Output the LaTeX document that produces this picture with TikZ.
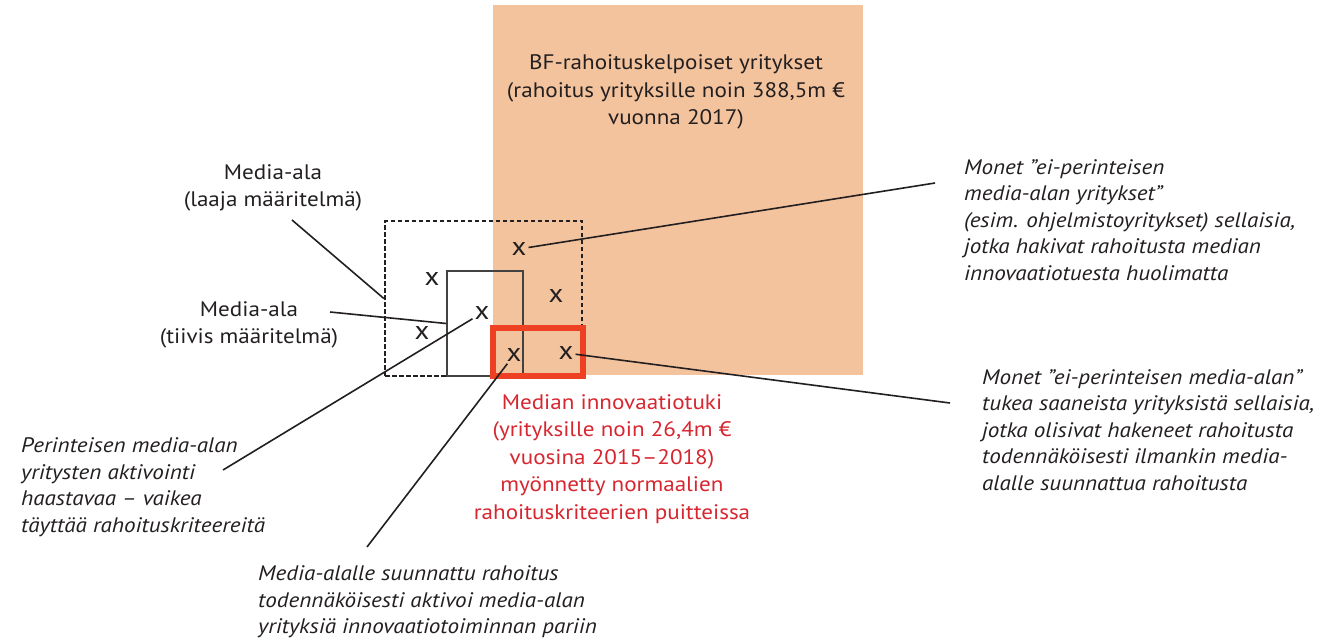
\documentclass[tikz,border=0pt]{standalone}
\usepackage{fontspec}
\setmainfont{PT Sans}[FakeStretch=1.1]
\usetikzlibrary{positioning}

\definecolor{bfpeach}{HTML}{F3C39E}
\definecolor{tukired}{HTML}{EE4123}
\definecolor{tukitext}{HTML}{D7262F}
\definecolor{tummateksti}{HTML}{231F20}

\begin{document}
\begin{tikzpicture}[x=1pt,y=-1pt,
    lbl/.style={align=center,inner sep=0pt,text=tummateksti,font=\fontsize{21}{27.5}\selectfont},
    note/.style={align=left,inner sep=0pt,anchor=west,text=tummateksti,font=\fontsize{21}{26.5}\selectfont\itshape},
    xmerkki/.style={inner sep=2pt,text=tummateksti,font=\fontsize{26}{26}\selectfont},
    viiva/.style={line width=1.6pt,tummateksti}]

\useasboundingbox (0,0) rectangle (1329,640);

% BF-rahoitus
\node[fill=bfpeach,minimum width=370pt,minimum height=370pt,inner sep=0pt] (bfbox) at (678,190) {};
\node[lbl] (bftxt) at (676,92) {BF-rahoituskelpoiset yritykset\\(rahoitus yrityksille noin 388,5m €\\vuonna 2017)};

% media-ala laatikot
\node[draw=tummateksti,line width=2.3pt,dash pattern=on 4.5pt off 2.5pt,minimum width=197pt,minimum height=155pt,inner sep=0pt] (laaja) at (483.5,298.5) {};
\node[draw=tummateksti!85,line width=1.3pt,minimum width=76pt,minimum height=105pt,inner sep=0pt] (tiivis) at (485,323.5) {};
\node[draw=tukired,line width=6.5pt,minimum width=90pt,minimum height=48pt,inner sep=0pt] (tuki) at (538,352) {};

% merkit
\node[xmerkki] (x1) at (519,249) {x};
\node[xmerkki] (x2) at (432,279) {x};
\node[xmerkki] (x3) at (556,296) {x};
\node[xmerkki] (x4) at (482,313) {x};
\node[xmerkki] (x5) at (422,333) {x};
\node[xmerkki] (x6) at (514,355) {x};
\node[xmerkki] (x7) at (566,353) {x};

% tekstit
\node[lbl] (laajatxt) at (273,188) {Media-ala\\(laaja määritelmä)};
\node[lbl] (tiivistxt) at (249,325) {Media-ala\\(tiivis määritelmä)};
\node[note] (monet1txt) at (964,220) {Monet ”ei-perinteisen\\media-alan yritykset”\\(esim. ohjelmistoyritykset) sellaisia,\\jotka hakivat rahoitusta median\\innovaatiotuesta huolimatta};
\node[note] (monet2txt) at (982,430) {Monet ”ei-perinteisen media-alan”\\tukea saaneista yrityksistä sellaisia,\\jotka olisivat hakeneet rahoitusta\\todennäköisesti ilmankin media-\\alalle suunnattua rahoitusta};
\node[note] (perintxt) at (21,487) {Perinteisen media-alan\\yritysten aktivointi\\haastavaa – vaikea\\täyttää rahoituskriteereitä};
\node[note] (alalletxt) at (258,602) {Media-alalle suunnattu rahoitus\\todennäköisesti aktivoi media-alan\\yrityksiä innovaatiotoiminnan pariin};
\node[lbl,text=tukitext] (tukitxt) at (612,459) {Median innovaatiotuki\\(yrityksille noin 26,4m €\\vuosina 2015–2018)\\myönnetty normaalien\\rahoituskriteerien puitteissa};

% viivojen päät
\coordinate (monet1pa) at (935,183);
\coordinate (monet2pa) at (950,403);
\coordinate (laajapa) at (292,220);
\coordinate (tiivispa) at (330,312);
\coordinate (perinpa) at (223,470);
\coordinate (alallepa) at (367,547);

\draw[viiva] (x1) -- (monet1pa);
\draw[viiva] (laajapa) -- (laaja.west);
\draw[viiva] (tiivispa) -- (tiivis.west);
\draw[viiva] (perinpa) -- (x4);
\draw[viiva] (alallepa) -- (x6);
\draw[viiva] (x7) -- (monet2pa);
\end{tikzpicture}
\end{document}
